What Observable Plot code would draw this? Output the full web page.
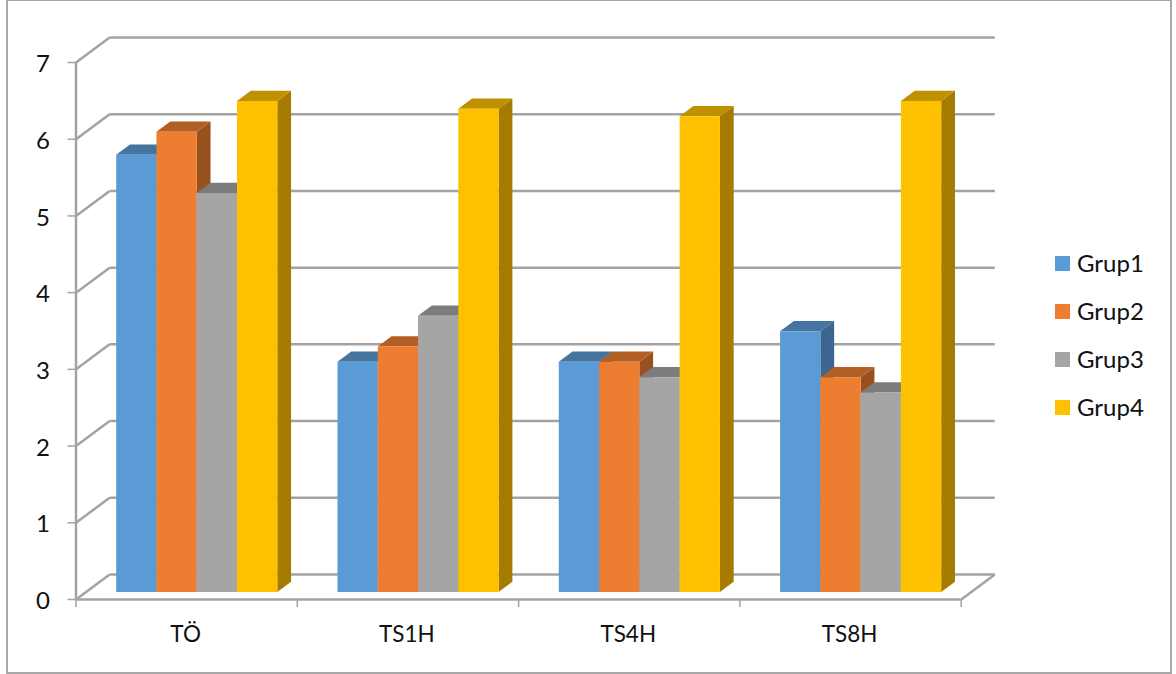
<!DOCTYPE html>
<html lang="tr">
<head>
<meta charset="utf-8">
<title>Grup</title>
<script src="https://cdn.jsdelivr.net/npm/d3@7"></script>
<script src="https://cdn.jsdelivr.net/npm/@observablehq/plot@0.6"></script>
<style>
  html, body { margin: 0; padding: 0; background: #fff; }
  #chart { position: relative; width: 1176px; height: 674px; overflow: hidden; font-family: Lato, sans-serif; color: #111; }
  #chart svg { position: absolute; left: 0; top: 0; background: none; }
  #border { position: absolute; left: 6px; top: -1px; width: 1162px; height: 671px; border: 2px solid #a8a8a8; }
  #legend { position: absolute; left: 1055px; top: 239px; display: grid; grid-auto-rows: 48px; font-size: 24px; }
  #legend div { display: flex; align-items: center; gap: 7px; }
  #legend i { display: block; width: 15px; height: 15px; }
  #legend span { position: relative; top: -1px; }
</style>
</head>
<body>
<div id="chart">
  <div id="border"></div>
  <div id="legend"></div>
</div>
<script>
// Measurement times and the four groups
const times = ["TÖ", "TS1H", "TS4H", "TS8H"];
const groups = ["Grup1", "Grup2", "Grup3", "Grup4"];
const grup1 = [5.7, 3.0, 3.0, 3.4];
const grup2 = [6.0, 3.2, 3.0, 2.8];
const grup3 = [5.2, 3.6, 2.8, 2.6];
const grup4 = [6.4, 6.3, 6.2, 6.4];
const series = [grup1, grup2, grup3, grup4];

// Face colours per group: front, top, right side
const frontColors = ["#5b9bd5", "#ed7d31", "#a5a5a5", "#ffc000"];
const topColors = ["#44749f", "#b25e25", "#7c7c7c", "#bf9000"];
const sideColors = ["#3b6691", "#9a5120", "#6b6b6b", "#a67c00"];

const valueTicks = d3.range(0, 8);
const boundaries = d3.range(0, 5);

// Oblique projection: depth 0 is the front edge of the floor, depth 1 the back wall.
// The shift per unit of depth is expressed in scale units.
const depthX = 0.152;
const depthY = 0.326;
const project = (c, v, depth) => ({x: c + depth * depthX, y: v + depth * depthY});

const barOffset = 0.136;
const barWidth = 0.182;
const barFront = 0.3;
const barBack = 0.71;

// Wall and floor lines
const segments = [];
for (const v of valueTicks) {
  const a = project(0, v, 0), b = project(0, v, 1), c = project(4, v, 1);
  segments.push({x1: a.x, y1: a.y, x2: b.x, y2: b.y});
  segments.push({x1: b.x, y1: b.y, x2: c.x, y2: c.y});
}
{
  const a = project(4, 0, 0), b = project(4, 0, 1);
  segments.push({x1: a.x, y1: a.y, x2: b.x, y2: b.y});
}

// Each bar is three closed polygons, stacked from left to right
const faces = [];
let faceId = 0;
const addFace = (corners, color) => {
  const id = faceId++;
  for (const [c, v, depth] of corners) faces.push({...project(c, v, depth), id, color});
};
times.forEach((_, t) => {
  series.forEach((values, g) => {
    const v = values[t];
    const l = t + barOffset + g * barWidth;
    const r = l + barWidth;
    addFace([[r, 0, barFront], [r, 0, barBack], [r, v, barBack], [r, v, barFront]], sideColors[g]);
    addFace([[l, v, barFront], [r, v, barFront], [r, v, barBack], [l, v, barBack]], topColors[g]);
    addFace([[l, 0, barFront], [r, 0, barFront], [r, v, barFront], [l, v, barFront]], frontColors[g]);
  });
});

const gridColor = "#a3a3a3";
const plot = Plot.plot({
  width: 1176,
  height: 674,
  marginLeft: 75.5,
  marginRight: 215.3,
  marginTop: 62,
  marginBottom: 75,
  style: {fontFamily: "Lato, sans-serif", fontSize: "24px", color: "#111", overflow: "visible"},
  x: {type: "linear", domain: [0, 4]},
  y: {domain: [0, 7]},
  color: {type: "identity"},
  marks: [
    Plot.link(segments, {x1: "x1", y1: "y1", x2: "x2", y2: "y2", stroke: gridColor, strokeWidth: 2.5}),
    Plot.line(faces, {x: "x", y: "y", z: "id", fill: "color", stroke: null, curve: "linear-closed"}),
    Plot.ruleX([0], {y1: 0, y2: 7, stroke: gridColor, strokeWidth: 2.5}),
    Plot.ruleY([0], {x1: 0, x2: 4, stroke: gridColor, strokeWidth: 2.5}),
    Plot.axisY({ticks: valueTicks, tickSize: 8, text: null, stroke: gridColor, strokeWidth: 1.5, label: null}),
    Plot.axisY({
      ticks: valueTicks, tickSize: 0, tickPadding: 26, dy: 2,
      tickFormat: d3.format("d"), label: null, fill: "#111"
    }),
    Plot.axisX({ticks: boundaries, tickSize: 8, text: null, stroke: gridColor, strokeWidth: 1.5, label: null}),
    Plot.axisX({
      ticks: times.map((_, i) => i + 0.5), tickSize: 0, tickPadding: 27, fontSize: 22.5, dx: -1,
      tickFormat: (d) => times[d - 0.5], label: null, fill: "#111"
    })
  ]
});
document.getElementById("chart").appendChild(plot);

// Legend to the right of the plot
const legend = document.getElementById("legend");
groups.forEach((name, g) => {
  const row = document.createElement("div");
  const swatch = document.createElement("i");
  swatch.style.background = frontColors[g];
  const label = document.createElement("span");
  label.textContent = name;
  row.append(swatch, label);
  legend.appendChild(row);
});
</script>
</body>
</html>
